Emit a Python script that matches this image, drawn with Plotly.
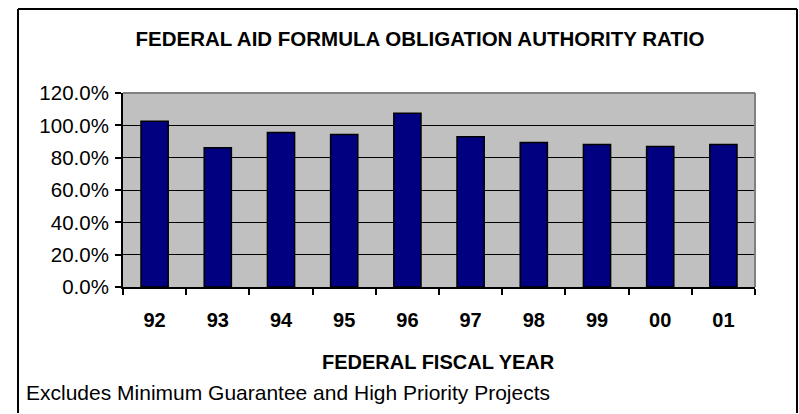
import plotly.graph_objects as go

years = ["92", "93", "94", "95", "96", "97", "98", "99", "00", "01"]
ratio = [1.025, 0.862, 0.955, 0.943, 1.074, 0.930, 0.894, 0.881, 0.869, 0.881]

title_text = "FEDERAL AID FORMULA OBLIGATION AUTHORITY RATIO"
x_title = "FEDERAL FISCAL YEAR"
note_text = "Excludes Minimum Guarantee and High Priority Projects"

W, H = 799, 414
L, R, T, B = 123, 44, 93, 127
pw, ph = W - L - R, H - T - B

def px(x):
    return (x - L) / pw

def py(y):
    return (H - B - y) / ph

FONT = "Liberation Sans, Arial, sans-serif"

fig = go.Figure(go.Bar(
    x=years, y=ratio,
    marker=dict(color="#000080", line=dict(color="black", width=1.5)),
))

fig.update_layout(
    width=W, height=H,
    margin=dict(l=L, r=R, t=T, b=B, autoexpand=False),
    paper_bgcolor="white",
    plot_bgcolor="#C0C0C0",
    bargap=0.57,
    showlegend=False,
    font=dict(family=FONT, color="black"),
    title=dict(text="<b>" + title_text + "</b>", xref="container", x=420 / W,
               xanchor="center", yref="container", y=1 - 39 / H, yanchor="middle",
               font=dict(size=20.5, family=FONT, color="black")),
)

fig.update_xaxes(
    type="category",
    showline=True, linecolor="black", linewidth=2,
    ticks="outside", tickson="boundaries", ticklen=6, tickwidth=2, tickcolor="black",
    tickfont=dict(size=20, family=FONT, color="black"),
    ticklabelstandoff=14,
    showgrid=False,
)
fig.update_xaxes(tickvals=years, ticktext=["<b>" + y + "</b>" for y in years])

fig.update_yaxes(
    range=[0, 1.2], dtick=0.2, tickformat=".1%",
    showline=True, linecolor="black", linewidth=2,
    ticks="outside", ticklen=6, tickwidth=2, tickcolor="black",
    tickfont=dict(size=20.5, family=FONT, color="black"),
    ticklabelstandoff=2,
    showgrid=True, gridcolor="black", gridwidth=1,
    zeroline=False,
)

frame_x0, frame_x1, frame_y0, frame_y1 = px(18), px(797), py(9), py(413)
shapes = [
    # outer frame (top, left, right)
    dict(type="line", xref="paper", yref="paper", x0=frame_x0, x1=frame_x1, y0=frame_y0, y1=frame_y0,
         line=dict(color="black", width=2)),
    dict(type="line", xref="paper", yref="paper", x0=frame_x0, x1=frame_x0, y0=frame_y0, y1=frame_y1,
         line=dict(color="black", width=2)),
    dict(type="line", xref="paper", yref="paper", x0=frame_x1, x1=frame_x1, y0=frame_y0, y1=frame_y1,
         line=dict(color="black", width=2)),
    # grey top and right border of plot area
    dict(type="line", xref="paper", yref="paper", x0=1, x1=1, y0=0, y1=1,
         line=dict(color="#808080", width=2), layer="above"),
    dict(type="line", xref="paper", yref="paper", x0=0, x1=1, y0=1, y1=1,
         line=dict(color="#808080", width=2), layer="above"),
]
fig.update_layout(shapes=shapes)

fig.add_annotation(text="<b>" + x_title + "</b>", xref="paper", yref="paper",
                   x=px(438), y=py(362), xanchor="center", yanchor="middle",
                   showarrow=False, font=dict(size=20, family=FONT, color="black"))
fig.add_annotation(text=note_text, xref="paper", yref="paper",
                   x=px(24), y=py(393), xanchor="left", yanchor="middle",
                   showarrow=False, font=dict(size=21, family=FONT, color="black"))

fig.write_html(
    "out.html",
    config={"displayModeBar": False},
    post_script="document.body.style.margin='0';document.body.style.overflow='hidden';",
)
